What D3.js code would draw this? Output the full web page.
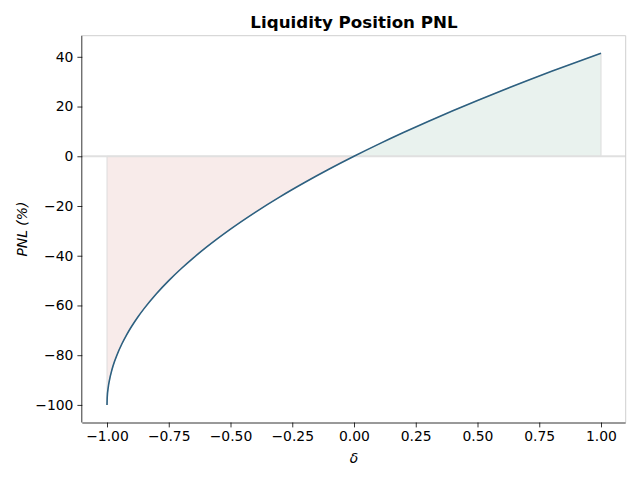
<!DOCTYPE html>
<html><head><meta charset="utf-8">
<script src="https://cdn.jsdelivr.net/npm/d3@7"></script>
<style>body{margin:0;background:#fff;} svg{display:block;font-family:"DejaVu Sans",sans-serif;}</style>
</head><body>
<svg id="c" width="640" height="480"></svg>
<script>
const delta = [-1.00,-0.999,-0.995,-0.99,-0.98,-0.97,-0.96,-0.94,-0.92,-0.90,-0.875,-0.85,-0.80,-0.75,-0.70,-0.65,-0.60,-0.50,-0.40,-0.30,-0.20,-0.10,0.00,0.10,0.20,0.30,0.40,0.50,0.60,0.70,0.80,0.90,1.00];
const pnl = [-100,-96.84,-92.93,-90.0,-85.86,-82.68,-80.0,-75.51,-71.72,-68.38,-64.64,-61.27,-55.28,-50.0,-45.23,-40.84,-36.75,-29.29,-22.54,-16.33,-10.56,-5.13,0.0,4.88,9.54,14.02,18.32,22.47,26.49,30.38,34.16,37.84,41.42];
const xTicks = [-1.00,-0.75,-0.50,-0.25,0.00,0.25,0.50,0.75,1.00];
const yTicks = [-100,-80,-60,-40,-20,0,20,40];
const title = "Liquidity Position PNL";
const xLabel = "δ";
const yLabel = "PNL (%)";

const data = delta.map((d,i)=>({x:d,y:pnl[i]}));
const svg = d3.select("#c");
const L=82.3, R=625.7, T=35.7, B=422.5;
const x = d3.scaleLinear().domain([-1.1,1.1]).range([L,R]);
const y = d3.scaleLinear().domain([-107.07,48.49]).range([B,T]);
const fmtMinus = s => s.replace("-","\u2212");

const neg = data.filter(d=>d.x<=0), pos = data.filter(d=>d.x>=0);
const area = d3.area().x(d=>x(d.x)).y0(y(0)).y1(d=>y(d.y)).curve(d3.curveMonotoneX);
svg.append("path").attr("d",area(neg)).attr("fill","#f8ebea").attr("stroke","#dcdcdc").attr("stroke-width",1);
svg.append("path").attr("d",area(pos)).attr("fill","#e9f2ee").attr("stroke","#dcdcdc").attr("stroke-width",1);

// zero line
svg.append("line").attr("x1",L).attr("x2",R).attr("y1",y(0)).attr("y2",y(0)).attr("stroke","#e0e0e0").attr("stroke-width",2);

const line = d3.line().x(d=>x(d.x)).y(d=>y(d.y)).curve(d3.curveMonotoneX);
svg.append("path").attr("d",line(data)).attr("fill","none").attr("stroke","#2d6080").attr("stroke-width",1.6);

// spines
svg.append("line").attr("x1",L).attr("x2",R).attr("y1",T).attr("y2",T).attr("stroke","#cfcfcf").attr("stroke-width",1);
svg.append("line").attr("x1",R).attr("x2",R).attr("y1",T).attr("y2",B).attr("stroke","#cfcfcf").attr("stroke-width",1);

const xa = svg.append("g").attr("transform",`translate(0,${B})`)
  .call(d3.axisBottom(x).tickValues(xTicks).tickSizeOuter(0).tickSize(4.9).tickPadding(4).tickFormat(d=>fmtMinus(d3.format(".2f")(d))));
const ya = svg.append("g").attr("transform",`translate(${L},0)`)
  .call(d3.axisLeft(y).tickValues(yTicks).tickSizeOuter(0).tickSize(4.9).tickPadding(4).tickFormat(d=>fmtMinus(String(d))));
[xa,ya].forEach(g=>{
  g.selectAll("text").attr("font-size","13.9px").attr("font-family","DejaVu Sans").attr("fill","#000");
  g.selectAll("line").attr("stroke","#000").attr("stroke-width",0.8);
  g.select(".domain").attr("stroke","#000").attr("stroke-width",0.8);
});
xa.select(".domain").attr("d",`M${L},0.5H${R}`);
ya.select(".domain").attr("d",`M-0.5,${T}V${B}`);

svg.append("text").attr("x",(L+R)/2).attr("y",28).attr("text-anchor","middle")
  .attr("font-size","16.7px").attr("font-weight","bold").text(title);
svg.append("text").attr("x",(L+R)/2).attr("y",463).attr("text-anchor","middle")
  .attr("font-size","13.9px").attr("font-style","italic").text(xLabel);
svg.append("text").attr("transform",`translate(27,${(T+B)/2}) rotate(-90)`).attr("text-anchor","middle")
  .attr("font-size","13.9px").attr("font-style","italic").text(yLabel);
</script>
</body></html>
